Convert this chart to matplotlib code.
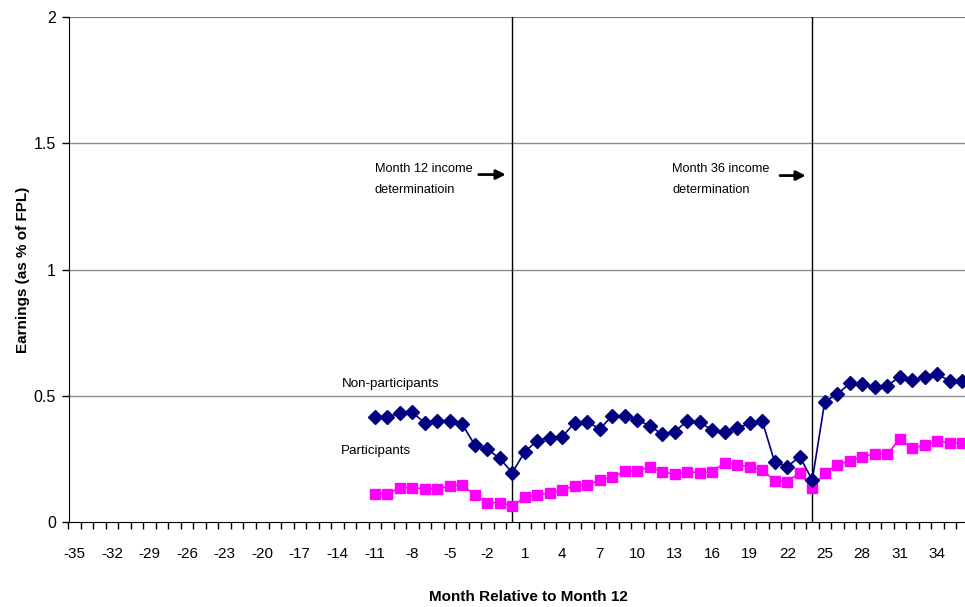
import matplotlib
matplotlib.use("Agg")
import matplotlib.pyplot as plt
import numpy as np

plt.rcParams['font.family'] = ['Liberation Sans', 'DejaVu Sans']

# Category axis: months -35 .. 36
months = list(range(-35, 37))
tick_labels = [str(m) for m in range(-35, 37, 3)]

# Data start at month -11
data_months = list(range(-11, 37))
non_participants = [0.417, 0.417, 0.430, 0.434, 0.393, 0.400, 0.400, 0.387, 0.305, 0.288,
                    0.252, 0.195, 0.278, 0.322, 0.334, 0.338, 0.393, 0.397, 0.368, 0.421,
                    0.421, 0.404, 0.381, 0.347, 0.358, 0.400, 0.395, 0.364, 0.358, 0.371,
                    0.391, 0.400, 0.236, 0.219, 0.259, 0.166, 0.477, 0.506, 0.549, 0.547,
                    0.533, 0.540, 0.575, 0.562, 0.575, 0.586, 0.558, 0.558]
participants = [0.111, 0.111, 0.136, 0.136, 0.131, 0.131, 0.143, 0.147, 0.107, 0.077,
                0.077, 0.063, 0.098, 0.107, 0.114, 0.127, 0.143, 0.147, 0.166, 0.177,
                0.202, 0.202, 0.219, 0.199, 0.189, 0.199, 0.195, 0.199, 0.235, 0.226,
                0.219, 0.206, 0.164, 0.160, 0.195, 0.133, 0.195, 0.226, 0.243, 0.259,
                0.269, 0.269, 0.329, 0.292, 0.305, 0.322, 0.312, 0.312]

vlines_at = [0, 24]
yticks = [0, 0.5, 1, 1.5, 2]
ytick_labels = ['0', '0.5', '1', '1.5', '2']

W, H = 965, 607
fig = plt.figure(figsize=(W / 100, H / 100), dpi=100)
left_px, right_px, top_px, bottom_px = 68.5, 965, 17, 522
ax = fig.add_axes([left_px / W, (H - bottom_px) / H, (right_px - left_px) / W, (bottom_px - top_px) / H])
aw = right_px - left_px
ah = bottom_px - top_px

# category c -> pixel ~512.5 + 12.5c
ax.set_xlim(-35.5, -35.5 + aw / 12.5)
ax.set_ylim(0, 2)

for y in [0.5, 1, 1.5]:
    ax.axhline(y, color='#8c8c8c', lw=1.0, zorder=1)
ax.axhline(2, color='#7878a8', lw=1.6, zorder=1)

for v in vlines_at:
    ax.axvline(v, color='black', lw=1.0, zorder=2)

ax.plot(data_months, non_participants, color='#000080', lw=1.2, marker='D',
        markersize=7, markerfacecolor='#000080', markeredgecolor='#000080', zorder=4, clip_on=False)
ax.plot(data_months, participants, color='#ff00ff', lw=1.2, marker='s',
        markersize=7.5, markerfacecolor='#ff00ff', markeredgecolor='#ff00ff', zorder=3, clip_on=False)

for s in ['top', 'right']:
    ax.spines[s].set_visible(False)
ax.spines['left'].set_color('black')
ax.spines['bottom'].set_color('black')
ax.spines['left'].set_zorder(5)
ax.spines['bottom'].set_zorder(5)

ax.set_xticks(list(range(-35, 37, 3)))
ax.set_xticklabels(tick_labels, fontsize=11)
ax.set_xticks([m + 0.5 for m in months[:-1]] + [-35.5], minor=True)
ax.tick_params(axis='x', which='major', length=0, pad=18)
ax.tick_params(axis='x', which='minor', length=5, direction='out', width=1)
ax.set_yticks(yticks)
ax.set_yticklabels(ytick_labels, fontsize=11.5)
ax.tick_params(axis='y', length=5, direction='out', width=1, pad=4)

ax.set_xlabel('Month Relative to Month 12', fontsize=11, fontweight='bold')
ax.xaxis.set_label_coords((528 - left_px) / aw, -(590 - bottom_px) / ah)
ax.set_ylabel('Earnings (as % of FPL)', fontsize=11, fontweight='bold')
ax.yaxis.set_label_coords(-(left_px - 30) / aw, 0.5)

ax.text(-13.6, 0.548, 'Non-participants', fontsize=9.6, va='center', ha='left')
ax.text(-13.7, 0.283, 'Participants', fontsize=9.6, va='center', ha='left')
ax.text(-11.0, 1.355, 'Month 12 income\ndeterminatioin', fontsize=9.2, va='center', ha='left',
        linespacing=2.0)
ax.text(12.8, 1.355, 'Month 36 income\ndetermination', fontsize=9.2, va='center', ha='left',
        linespacing=2.0)
ax.annotate('', xy=(-0.3, 1.376), xytext=(-2.9, 1.376),
            arrowprops=dict(arrowstyle='-|>', color='black', lw=2, mutation_scale=14))
ax.annotate('', xy=(23.7, 1.372), xytext=(21.2, 1.372),
            arrowprops=dict(arrowstyle='-|>', color='black', lw=2, mutation_scale=14))

fig.savefig('out.png', dpi=100)
